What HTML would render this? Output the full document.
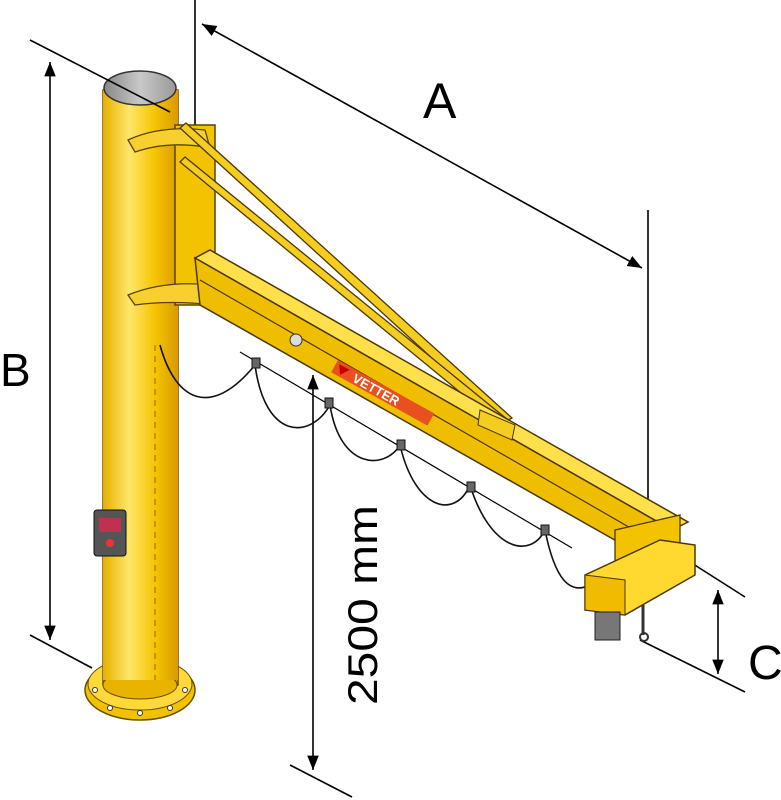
<!DOCTYPE html>
<html><head><meta charset="utf-8"><style>html,body{margin:0;padding:0;background:#fff}svg{display:block}</style></head>
<body>
<svg width="781" height="800" viewBox="0 0 781 800" xmlns="http://www.w3.org/2000/svg">
<defs>
<linearGradient id="pil" x1="0" x2="1" y1="0" y2="0">
<stop offset="0" stop-color="#e6b000"/><stop offset="0.35" stop-color="#ffe66a"/><stop offset="0.7" stop-color="#f5c400"/><stop offset="1" stop-color="#d99a00"/>
</linearGradient>
<linearGradient id="cap" x1="0" x2="1"><stop offset="0" stop-color="#888"/><stop offset="0.5" stop-color="#c8c8c8"/><stop offset="1" stop-color="#999"/></linearGradient>
<marker id="ar" viewBox="0 0 10 10" refX="10" refY="5" markerWidth="9" markerHeight="9" orient="auto-start-reverse"><path d="M0,1 L10,5 L0,9 z" fill="#000"/></marker>
</defs>
<g stroke="#000" stroke-width="1.6" fill="none">
<line x1="30" y1="635" x2="92" y2="668"/>
<line x1="50" y1="62" x2="50" y2="640" marker-start="url(#ar)" marker-end="url(#ar)"/>
<line x1="195" y1="0" x2="195" y2="125"/>
<line x1="648" y1="210" x2="648" y2="525"/>
<line x1="202" y1="24" x2="642" y2="268" marker-start="url(#ar)" marker-end="url(#ar)"/>
<line x1="290" y1="765" x2="352" y2="797"/>
<line x1="313" y1="375" x2="313" y2="770" marker-start="url(#ar)" marker-end="url(#ar)"/>
<line x1="690" y1="562" x2="745" y2="597"/>
<line x1="640" y1="640" x2="745" y2="692"/>
<line x1="718" y1="590" x2="718" y2="674" marker-start="url(#ar)" marker-end="url(#ar)"/>
<line x1="240" y1="352" x2="572" y2="548" stroke-width="1.2"/>
</g>
<ellipse cx="140" cy="690" rx="55" ry="30" fill="#f2c200" stroke="#6a5000" stroke-width="1.5"/>
<ellipse cx="140" cy="684" rx="52" ry="26" fill="#ffd83a" stroke="#6a5000" stroke-width="1"/>
<rect x="103" y="90" width="75" height="595" fill="url(#pil)" stroke="#6a5000" stroke-width="1.5"/>
<ellipse cx="140" cy="685" rx="37" ry="14" fill="#e8b400" stroke="#6a5000" stroke-width="1"/>
<rect x="103" y="90" width="75" height="590" fill="url(#pil)"/>
<line x1="155" y1="345" x2="155" y2="680" stroke="#8a6a00" stroke-dasharray="6,5"/>
<ellipse cx="140" cy="88" rx="36" ry="17" fill="url(#cap)" stroke="#333" stroke-width="1.5"/>
<line x1="30" y1="40" x2="170" y2="112" stroke="#000" stroke-width="1.6"/>
<g fill="#fff" stroke="#333"><circle cx="95" cy="690" r="2.5"/><circle cx="110" cy="708" r="2.5"/><circle cx="140" cy="713" r="2.5"/><circle cx="170" cy="708" r="2.5"/><circle cx="185" cy="690" r="2.5"/></g>
<rect x="94" y="510" width="32" height="46" rx="3" fill="#555" stroke="#111"/>
<rect x="99" y="518" width="22" height="14" fill="#c03050"/><circle cx="110" cy="543" r="4" fill="#e33"/>
<rect x="175" y="125" width="40" height="180" fill="#f3c200" stroke="#5a4400" stroke-width="1.5"/>
<path d="M128,140 Q160,125 205,130 L210,148 Q170,140 135,152 Z" fill="#f7d030" stroke="#5a4400" stroke-width="1.3"/>
<path d="M128,295 Q165,280 210,285 L215,305 Q170,300 135,305 Z" fill="#f7d030" stroke="#5a4400" stroke-width="1.3"/>
<polygon points="180,128 186,123 512,418 503,423" fill="#f5cc20" stroke="#4a3800" stroke-width="1.3"/>
<polygon points="180,162 185,157 508,420 500,425" fill="#f5cc20" stroke="#4a3800" stroke-width="1.3"/>
<polygon points="195,258 210,250 688,522 672,530" fill="#ffe04a" stroke="#4a3800" stroke-width="1.5"/>
<polygon points="195,258 672,530 650,560 200,305" fill="#f0be00" stroke="#4a3800" stroke-width="1.5"/>
<line x1="200" y1="280" x2="660" y2="545" stroke="#4a3800" stroke-width="1.2"/>
<polygon points="480,410 515,425 512,440 478,425" fill="#f5cc20" stroke="#4a3800"/>
<circle cx="296" cy="340" r="6" fill="#ddd" stroke="#333"/>
<g transform="translate(338,360) rotate(29)"><rect x="0" y="0" width="110" height="14" fill="#e85020"/><text x="22" y="12" font-family="Liberation Sans, sans-serif" font-size="13" font-weight="bold" fill="#fff">VETTER</text><path d="M3,3 L15,3 L9,12 Z" fill="#c00"/></g>
<path d="M160,345 C175,400 210,420 255,365 C265,440 310,440 330,405 C340,470 385,470 400,445 C415,510 455,520 470,485 C490,550 530,560 545,530 C555,580 570,595 590,585" fill="none" stroke="#111" stroke-width="1.6"/>
<g fill="#666" stroke="#111"><rect x="252" y="358" width="8" height="10"/><rect x="325" y="398" width="8" height="10"/><rect x="397" y="440" width="8" height="10"/><rect x="467" y="482" width="8" height="10"/><rect x="541" y="525" width="8" height="10"/></g>
<polygon points="615,530 680,515 680,560 615,575" fill="#f3c200" stroke="#4a3800" stroke-width="1.3"/>
<polygon points="585,575 660,540 695,545 695,575 625,615 585,610" fill="#ffd830" stroke="#4a3800" stroke-width="1.5"/>
<polygon points="585,575 625,580 625,615 585,610" fill="#f0bb00" stroke="#4a3800"/>
<rect x="595" y="612" width="25" height="28" fill="#777" stroke="#222"/>
<line x1="643" y1="605" x2="643" y2="635" stroke="#333" stroke-width="3"/><circle cx="644" cy="637" r="4" fill="none" stroke="#333" stroke-width="2"/>
<g font-family="Liberation Sans, sans-serif" fill="#000">
<text x="423" y="118" font-size="50">A</text>
<text x="0" y="386" font-size="46">B</text>
<text x="748" y="679" font-size="48">C</text>
<text transform="translate(377,705) rotate(-90)" font-size="42" textLength="200" lengthAdjust="spacingAndGlyphs">2500 mm</text>
</g>
</svg>
</body></html>
